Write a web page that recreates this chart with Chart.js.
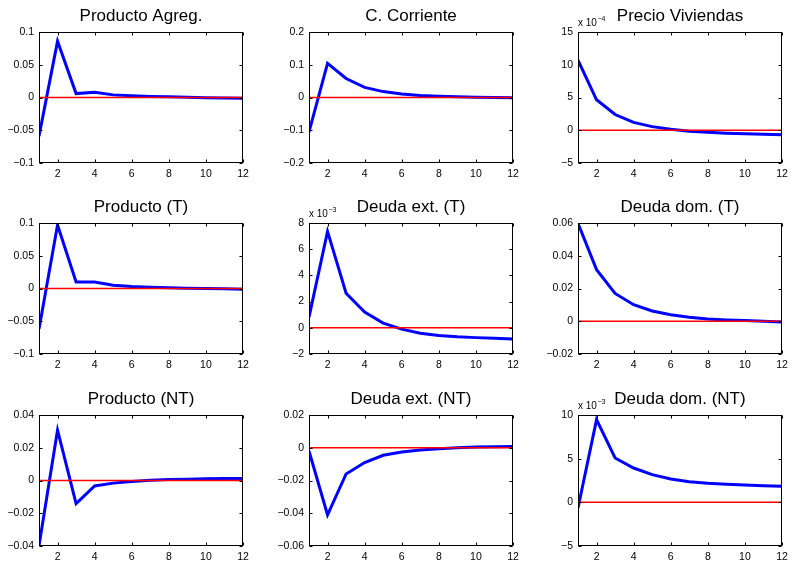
<!DOCTYPE html>
<html>
<head>
<meta charset="utf-8">
<script src="https://cdn.jsdelivr.net/npm/chart.js@4.4.1/dist/chart.umd.min.js"></script>
<style>
  html, body { margin: 0; padding: 0; background: #fff; }
  #wrap { position: relative; width: 791px; height: 563px; overflow: hidden; background: #fff; }
  canvas { position: absolute; }
</style>
</head>
<body>
<div id="wrap"></div>
<script>
'use strict';
// impulse responses, 12 periods, one array per panel
const periods = [1, 2, 3, 4, 5, 6, 7, 8, 9, 10, 11, 12];
const xTicks = [2, 4, 6, 8, 10, 12];

const productoAgreg = [-0.059, 0.086, 0.006, 0.008, 0.004, 0.0025, 0.0015, 0.001, 0.0004, -0.0003, -0.0007, -0.001];
const cCorriente = [-0.105, 0.104, 0.058, 0.031, 0.018, 0.011, 0.006, 0.004, 0.002, 0.001, 0, -0.001];
const precioViviendas = [10.7e-4, 4.65e-4, 2.4e-4, 1.2e-4, 0.55e-4, 0.15e-4, -0.15e-4, -0.3e-4, -0.45e-4, -0.55e-4, -0.6e-4, -0.7e-4];
const productoT = [-0.062, 0.097, 0.010, 0.010, 0.005, 0.003, 0.002, 0.001, 0.0005, 0, -0.0005, -0.001];
const deudaExtT = [0.82e-3, 7.36e-3, 2.64e-3, 1.2e-3, 0.36e-3, -0.1e-3, -0.41e-3, -0.59e-3, -0.69e-3, -0.75e-3, -0.8e-3, -0.85e-3];
const deudaDomT = [0.0598, 0.0315, 0.017, 0.0101, 0.0063, 0.004, 0.0024, 0.0014, 0.0008, 0.0004, 0, -0.0004];
const productoNT = [-0.0398, 0.0308, -0.0141, -0.0033, -0.0016, -0.0006, 0.0002, 0.0006, 0.0008, 0.001, 0.0012, 0.0012];
const deudaExtNT = [-0.002, -0.041, -0.016, -0.009, -0.0046, -0.0026, -0.0014, -0.0006, 0, 0.0004, 0.0006, 0.0008];
const deudaDomNT = [-0.65e-3, 9.47e-3, 5.08e-3, 3.93e-3, 3.17e-3, 2.67e-3, 2.37e-3, 2.18e-3, 2.06e-3, 1.98e-3, 1.91e-3, 1.83e-3];

// y ticks (ascending) and their labels
const ticksPt1 = [-0.1, -0.05, 0, 0.05, 0.1];
const labelsPt1 = ['\u22120.1', '\u22120.05', '0', '0.05', '0.1'];
const ticksPt2 = [-0.2, -0.1, 0, 0.1, 0.2];
const labelsPt2 = ['\u22120.2', '\u22120.1', '0', '0.1', '0.2'];
const ticksE4 = [-5e-4, 0, 5e-4, 10e-4, 15e-4];
const labelsE4 = ['\u22125', '0', '5', '10', '15'];
const ticksE3a = [-2e-3, 0, 2e-3, 4e-3, 6e-3, 8e-3];
const labelsE3a = ['\u22122', '0', '2', '4', '6', '8'];
const ticksDom = [-0.02, 0, 0.02, 0.04, 0.06];
const labelsDom = ['\u22120.02', '0', '0.02', '0.04', '0.06'];
const ticksPnt = [-0.04, -0.02, 0, 0.02, 0.04];
const labelsPnt = ['\u22120.04', '\u22120.02', '0', '0.02', '0.04'];
const ticksExt = [-0.06, -0.04, -0.02, 0, 0.02];
const labelsExt = ['\u22120.06', '\u22120.04', '\u22120.02', '0', '0.02'];
const ticksE3b = [-5e-3, 0, 5e-3, 10e-3];
const labelsE3b = ['\u22125', '0', '5', '10'];

const panels = [
  { title: 'Producto Agreg.', values: productoAgreg, ticks: ticksPt1, labels: labelsPt1, exp: null },
  { title: 'C. Corriente', values: cCorriente, ticks: ticksPt2, labels: labelsPt2, exp: null },
  { title: 'Precio Viviendas', values: precioViviendas, ticks: ticksE4, labels: labelsE4, exp: '\u22124' },
  { title: 'Producto (T)', values: productoT, ticks: ticksPt1, labels: labelsPt1, exp: null },
  { title: 'Deuda ext. (T)', values: deudaExtT, ticks: ticksE3a, labels: labelsE3a, exp: '\u22123' },
  { title: 'Deuda dom. (T)', values: deudaDomT, ticks: ticksDom, labels: labelsDom, exp: null },
  { title: 'Producto (NT)', values: productoNT, ticks: ticksPnt, labels: labelsPnt, exp: null },
  { title: 'Deuda ext. (NT)', values: deudaExtNT, ticks: ticksExt, labels: labelsExt, exp: null },
  { title: 'Deuda dom. (NT)', values: deudaDomNT, ticks: ticksE3b, labels: labelsE3b, exp: '\u22123' }
];

const FONT = '"Liberation Sans", Arial, Helvetica, sans-serif';
const colLeft = [39, 309, 578];
const rowTop = [32, 223, 415];
const plotW = 204, plotH = 131;
const padL = 40, padT = 30, padR = 15, padB = 22;

// box, inward ticks, title and exponent note, MATLAB style
const axesBox = {
  id: 'axesBox',
  afterDatasetsDraw(chart, args, opts) {
    const { ctx, chartArea: a, scales } = chart;
    ctx.save();
    ctx.strokeStyle = '#000';
    ctx.lineWidth = 1;
    const L = Math.round(a.left) + 0.5, R = Math.round(a.right) - 0.5;
    const T = Math.round(a.top) + 0.5, B = Math.round(a.bottom) - 0.5;
    ctx.strokeRect(L, T, R - L, B - T);
    ctx.beginPath();
    scales.x.ticks.forEach(t => {
      const px = Math.round(scales.x.getPixelForValue(t.value)) + 0.5;
      ctx.moveTo(px, B); ctx.lineTo(px, B - 3);
      ctx.moveTo(px, T); ctx.lineTo(px, T + 3);
    });
    scales.y.ticks.forEach(t => {
      const py = Math.round(scales.y.getPixelForValue(t.value)) + 0.5;
      ctx.moveTo(L, py); ctx.lineTo(L + 3, py);
      ctx.moveTo(R, py); ctx.lineTo(R - 3, py);
    });
    ctx.stroke();

    ctx.fillStyle = '#000';
    ctx.font = '17px ' + FONT;
    ctx.textAlign = 'center';
    ctx.textBaseline = 'alphabetic';
    ctx.fillText(opts.title, (a.left + a.right) / 2, a.top - 11);

    if (opts.exp) {
      ctx.textAlign = 'left';
      ctx.font = '10px ' + FONT;
      ctx.fillText('x 10', a.left, a.top - 6);
      const w = ctx.measureText('x 10').width;
      ctx.font = '7px ' + FONT;
      ctx.fillText(opts.exp, a.left + w + 0.5, a.top - 11);
    }
    ctx.restore();
  }
};

const wrap = document.getElementById('wrap');

panels.forEach((p, i) => {
  const col = i % 3, row = Math.floor(i / 3);
  const cv = document.createElement('canvas');
  const w = plotW + padL + padR, h = plotH + padT + padB;
  cv.width = w; cv.height = h;
  cv.style.width = w + 'px'; cv.style.height = h + 'px';
  cv.style.left = (colLeft[col] - padL) + 'px';
  cv.style.top = (rowTop[row] - padT) + 'px';
  wrap.appendChild(cv);

  new Chart(cv, {
    type: 'line',
    data: {
      datasets: [
        {
          data: [{ x: 1, y: 0 }, { x: 12, y: 0 }],
          borderColor: '#ff0000', borderWidth: 1.5, pointRadius: 0, order: 0
        },
        {
          data: periods.map((x, k) => ({ x: x, y: p.values[k] })),
          borderColor: '#0000ff', borderWidth: 3, pointRadius: 0, tension: 0,
          borderJoinStyle: 'miter', order: 1
        }
      ]
    },
    options: {
      responsive: false,
      animation: false,
      events: [],
      layout: { padding: { left: 0, top: padT, right: padR, bottom: 0 } },
      plugins: {
        legend: { display: false },
        tooltip: { enabled: false },
        title: { display: false },
        axesBox: { title: p.title, exp: p.exp }
      },
      scales: {
        x: {
          type: 'linear', min: 1, max: 12,
          afterBuildTicks: s => { s.ticks = xTicks.map(v => ({ value: v })); },
          afterFit: s => { s.height = padB; },
          grid: { display: false, drawTicks: false },
          border: { display: false },
          ticks: {
            padding: 5, color: '#000', maxRotation: 0, autoSkip: false,
            font: { family: FONT, size: 10.5 },
            callback: v => String(v)
          }
        },
        y: {
          type: 'linear',
          min: p.ticks[0], max: p.ticks[p.ticks.length - 1],
          afterBuildTicks: s => { s.ticks = p.ticks.map(v => ({ value: v })); },
          afterFit: s => { s.width = padL; },
          grid: { display: false, drawTicks: false },
          border: { display: false },
          ticks: {
            padding: 5, color: '#000', autoSkip: false,
            font: { family: FONT, size: 10.5 },
            callback: (v, idx) => p.labels[idx]
          }
        }
      }
    },
    plugins: [axesBox]
  });
});
</script>
</body>
</html>
